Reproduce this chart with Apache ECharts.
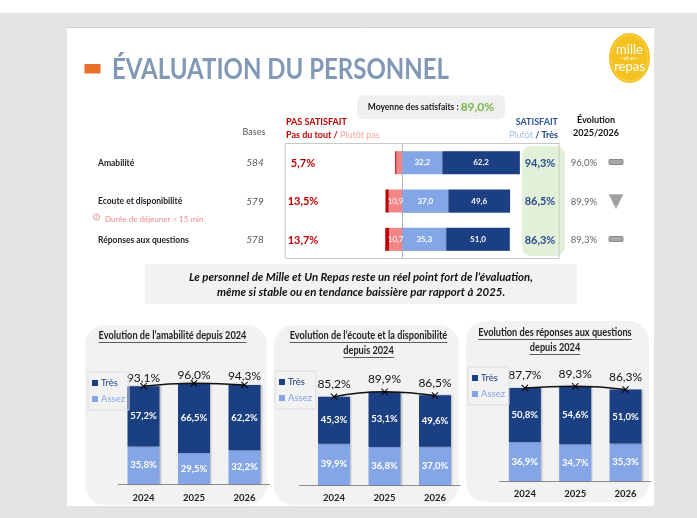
<!DOCTYPE html>
<html><head><meta charset="utf-8">
<style>html,body{margin:0;padding:0;background:#fff}#c{width:697px;height:518px}</style>
<script src="https://cdn.jsdelivr.net/npm/echarts@6/dist/echarts.min.js"></script>
</head><body><div id="c"></div>
<script>
// ---- main table data
const rowNames = ['Amabilité', 'Ecoute et disponibilité', 'Réponses aux questions'];
const bases = ['584', '579', '578'];
const pasDuTout = [1.0, 2.6, 3.0];
const plutotPas = [4.7, 10.9, 10.7];
const plutotSat = [32.2, 37.0, 35.3];
const tresSat = [62.2, 49.6, 51.0];
const totalPas = [5.7, 13.5, 13.7];
const totalSat = [94.3, 86.5, 86.3];
const evol2025 = [96.0, 89.9, 89.3];
const evolTrend = ['flat', 'down', 'flat'];
const averageSat = 89.0;
// ---- evolution panels data
const years = ['2024', '2025', '2026'];
const amabTres = [57.2, 66.5, 62.2];
const amabAssez = [35.8, 29.5, 32.2];
const amabTotal = [93.1, 96.0, 94.3];
const ecouteTres = [45.3, 53.1, 49.6];
const ecouteAssez = [39.9, 36.8, 37.0];
const ecouteTotal = [85.2, 89.9, 86.5];
const repTres = [50.8, 54.6, 51.0];
const repAssez = [36.9, 34.7, 35.3];
const repTotal = [87.7, 89.3, 86.3];

const NAVY = '#1a3f82', LIGHT = '#85a6e6', RED = '#c00000', PINK = '#f28585';
const FONT = 'Lato, sans-serif';
const fr = (v, d = 1) => v.toFixed(d).replace('.', ',');
const pct = v => fr(v) + '%';

const measureCtx = document.createElement('canvas').getContext('2d');
function textWidth(text, font) { measureCtx.font = font; return measureCtx.measureText(text).width; }

function txt(x, y, text, font, fill, align, extra, el) {
  return Object.assign({ type: 'text', x, y, z: 20, silent: true,
    style: Object.assign({ text, font, fill, align: align || 'left', verticalAlign: 'middle' }, extra || {}) }, el || {});
}
function box(x, y, w, h, fill, r, z, stroke) {
  return { type: 'rect', z: z === undefined ? 0 : z, silent: true, shape: { x, y, width: w, height: h, r: r || 0 },
    style: { fill, stroke: stroke || null } };
}

const rowY = [163, 201.5, 240];
const g = [];
// page
g.push(box(0, 13, 697, 505, '#e4e4e4', 0, -3));
g.push(box(67, 27, 587, 479, '#ffffff', 0, -2));
g.push({ type: 'line', z: -1, silent: true, shape: { x1: 67, y1: 27.5, x2: 654, y2: 27.5 }, style: { stroke: '#d2d2d2', lineWidth: 1 } });
// title
g.push(box(84.5, 64, 16, 9.5, '#e8702a', 0, 1));
g.push(txt(112, 70, 'ÉVALUATION DU PERSONNEL', 'bold 28px ' + FONT, '#8199b6', 'left', null, { scaleX: 0.857 }));
// logo
g.push({ type: 'ellipse', z: 1, silent: true, shape: { cx: 629.5, cy: 58, rx: 20.5, ry: 25 }, style: { fill: '#f4c11f' } });
g.push({ type: 'ellipse', z: 1, silent: true, shape: { cx: 629.5, cy: 58, rx: 18.5, ry: 23 }, style: { fill: 'none', stroke: '#fbe08a', lineWidth: 0.6 } });
g.push(txt(629.5, 49.5, 'mille', '13px ' + FONT, '#fff', 'center'));
g.push(txt(629.5, 58.5, '—et un—', '5px ' + FONT, '#fff', 'center'));
g.push(txt(629.5, 66.5, 'repas', '13px ' + FONT, '#fff', 'center'));
// average
g.push(box(357, 95, 148, 24, '#f0f0f0', 6, 1));
g.push({ type: 'text', x: 431, y: 107.5, z: 20, silent: true, style: {
  text: '{a|Moyenne des satisfaits : }{b|' + fr(averageSat) + '%}', align: 'center', verticalAlign: 'middle',
  rich: { a: { font: 'bold 8.5px ' + FONT, fill: '#1a1a1a' }, b: { font: 'bold 12px ' + FONT, fill: '#7ab648' } } } });
// headers
g.push(txt(254, 132.5, 'Bases', '9px ' + FONT, '#555', 'center'));
g.push(txt(286, 122.5, 'PAS SATISFAIT', 'bold 9px ' + FONT, RED));
g.push({ type: 'text', x: 286, y: 135, z: 20, silent: true, style: {
  text: '{a|Pas du tout / }{b|Plutôt pas}', verticalAlign: 'middle',
  rich: { a: { font: 'bold 9px ' + FONT, fill: RED }, b: { font: '9px ' + FONT, fill: '#f6a5a5' } } } });
g.push(txt(558, 122.5, 'SATISFAIT', 'bold 9px ' + FONT, '#2f5597', 'right'));
g.push({ type: 'text', x: 558, y: 135, z: 20, silent: true, style: {
  text: '{a|Plutôt}{b| / Très}', align: 'right', verticalAlign: 'middle',
  rich: { a: { font: '9px ' + FONT, fill: '#a5bdec' }, b: { font: 'bold 9px ' + FONT, fill: NAVY } } } });
g.push(txt(596, 120.5, 'Évolution', 'bold 9px ' + FONT, '#111', 'center'));
g.push(txt(596, 133, '2025/2026', 'bold 9px ' + FONT, '#111', 'center'));
// green box
g.push(box(522, 146, 43, 110, 'rgba(190,220,170,0.45)', 9, 3));
// table rows
rowNames.forEach((name, i) => {
  const y = rowY[i];
  g.push(txt(98, y, name, 'bold 8.5px ' + FONT, '#222'));
  g.push(txt(255, y, bases[i], 'italic 10px ' + FONT, '#555', 'center'));
  g.push(txt(303, y, fr(totalPas[i]) + '%', 'bold 11px ' + FONT, RED, 'center'));
  g.push(txt(540, y, fr(totalSat[i]) + '%', 'bold 11px ' + FONT, '#2b4d8f', 'center'));
  g.push(txt(584, y, fr(evol2025[i]) + '%', '9.5px ' + FONT, '#666', 'center'));
  if (evolTrend[i] === 'flat') {
    g.push(box(609, y - 3.5, 14, 5, '#a8a8a8', 1, 5, '#8a8a8a'));
  } else {
    g.push({ type: 'polygon', z: 5, silent: true, shape: { points: [[609, y - 7], [623, y - 7], [616, y + 7]] },
      style: { fill: '#a0a0a0', stroke: '#bdbdbd', lineWidth: 1 } });
  }
});
g.push({ type: 'circle', z: 5, silent: true, shape: { cx: 96.5, cy: 217, r: 3 }, style: { fill: 'none', stroke: '#ee7a7a', lineWidth: 0.8 } });
g.push(txt(96.5, 217, '!', '5px ' + FONT, '#ee7a7a', 'center'));
g.push(txt(105, 219, 'Durée de déjeuner < 15 min', '8px ' + FONT, '#f08a8a'));
// statement
g.push(box(145, 264, 432, 40, '#f2f2f2', 0, 1));
g.push(txt(361, 277, 'Le personnel de Mille et Un Repas reste un réel point fort de l’évaluation,', 'italic bold 11.4px ' + FONT, '#111', 'center'));
g.push(txt(361, 292, 'même si stable ou en tendance baissière par rapport à 2025.', 'italic bold 11.4px ' + FONT, '#111', 'center'));

// panels
const panels = [
  { tres: amabTres, assez: amabAssez, total: amabTotal, rect: [85, 325, 182, 180], cx: 172.5, left: 118.25, width: 151.5, axisY: 484, scale: 1.05, dist: -1,
    title: [['Evolution de l’amabilité depuis 2024', 336]], legend: [88, 372], catMargin: 9 },
  { tres: ecouteTres, assez: ecouteAssez, total: ecouteTotal, rect: [274, 325, 185, 180], cx: 368.5, left: 308.75, width: 151.5, axisY: 485, scale: 1.036, dist: 3,
    title: [['Evolution de l’écoute et la disponibilité', 336], ['depuis 2024', 351]], legend: [275, 371], catMargin: 8 },
  { tres: repTres, assez: repAssez, total: repTotal, rect: [466, 321, 183, 181], cx: 555, left: 499.7, width: 151, axisY: 481, scale: 1.06, dist: 3,
    title: [['Evolution des réponses aux questions', 333], ['depuis 2024', 348]], legend: [468, 367], catMargin: 8 }
];
const grids = [], xAxes = [], yAxes = [], series = [], legends = [];
const VMAX = 120;
const TITLE_SCALE = 0.875;
panels.forEach((p, i) => {
  const [x, y, w, h] = p.rect;
  g.push(box(x, y, w, h, '#f2f2f2', 20, -1));
  const tf = 'bold 10.5px ' + FONT;
  p.title.forEach(t => {
    g.push(txt(p.cx, t[1], t[0], tf, '#222', 'center', null, { scaleX: TITLE_SCALE }));
    const tw = textWidth(t[0], tf) * TITLE_SCALE;
    g.push({ type: 'line', z: 20, silent: true, shape: { x1: p.cx - tw / 2, y1: t[1] + 6.5, x2: p.cx + tw / 2, y2: t[1] + 6.5 }, style: { stroke: '#333', lineWidth: 0.8 } });
  });
  const idx = i + 1;
  grids.push({ left: p.left, width: p.width, top: p.axisY - VMAX * p.scale, height: VMAX * p.scale, z: 2 });
  xAxes.push({ type: 'category', gridIndex: idx, data: years,
    axisLine: { lineStyle: { color: '#8c8c8c', width: 1 } }, axisTick: { show: false },
    axisLabel: { margin: p.catMargin, fontWeight: 'bold', fontSize: 9.5, fontFamily: FONT, color: '#222' } });
  yAxes.push({ type: 'value', gridIndex: idx, min: 0, max: VMAX, show: false, splitLine: { show: false } });
  const barStyle = c => ({ color: c, shadowBlur: 2, shadowOffsetX: 1, shadowColor: 'rgba(0,0,0,0.25)' });
  const lab = { show: true, position: 'inside', color: '#fff', fontFamily: FONT, fontSize: 9.5, fontWeight: 'bold',
    formatter: o => pct(o.value) };
  series.push({ name: 'Assez', type: 'bar', xAxisIndex: idx, yAxisIndex: idx, stack: 'p' + i, barWidth: 32, data: p.assez, itemStyle: barStyle(LIGHT), label: lab });
  series.push({ name: 'Très', type: 'bar', xAxisIndex: idx, yAxisIndex: idx, stack: 'p' + i, barWidth: 32, data: p.tres, itemStyle: barStyle(NAVY), label: lab });
  series.push({ name: 'Total', type: 'line', xAxisIndex: idx, yAxisIndex: idx, data: p.total, smooth: true, z: 6,
    symbol: 'path://M1 0L5 4L9 0L10 1L6 5L10 9L9 10L5 6L1 10L0 9L4 5L0 1Z', symbolSize: 7,
    lineStyle: { color: '#111', width: 1.5 }, itemStyle: { color: '#000' },
    label: { show: true, position: 'top', distance: p.dist, color: '#111', fontFamily: FONT, fontSize: 12, formatter: o => pct(o.value) } });
  legends.push({ left: p.legend[0], top: p.legend[1], orient: 'vertical', icon: 'rect', itemWidth: 6, itemHeight: 6, itemGap: 6,
    padding: [6, 4, 6, 4], borderColor: '#dedede', borderWidth: 1, selectedMode: false, z: 10,
    textStyle: { fontFamily: FONT, fontSize: 9.5, padding: [0, 0, 0, -2] },
    data: [{ name: 'Très', textStyle: { color: NAVY } }, { name: 'Assez', textStyle: { color: LIGHT } }] });
});
// panel 2 axis line extends to the left of the band
g.push({ type: 'line', z: 5, silent: true, shape: { x1: 299, y1: 485.5, x2: 309, y2: 485.5 }, style: { stroke: '#8c8c8c', lineWidth: 1 } });

// main grid: value -94..126 at 1.245 px per unit
const mainLab = { show: true, position: 'inside', color: '#fff', fontFamily: FONT, fontSize: 8, fontWeight: 'bold' };
const mainSeries = [
  { name: 'Plutôt pas', type: 'bar', stack: 'm', barWidth: 23, data: plutotPas.map(v => -v), itemStyle: { color: PINK },
    label: Object.assign({}, mainLab, { fontWeight: 'normal', formatter: o => -o.value > 6 ? fr(-o.value) : '' }), z: 4 },
  { name: 'Pas du tout', type: 'bar', stack: 'm', barWidth: 23, data: pasDuTout.map(v => -v), itemStyle: { color: RED }, z: 4 },
  { name: 'Plutôt', type: 'bar', stack: 'm', barWidth: 23, data: plutotSat, itemStyle: { color: LIGHT, shadowBlur: 1, shadowColor: 'rgba(40,70,140,.4)' },
    label: Object.assign({}, mainLab, { formatter: o => fr(o.value) }), z: 4 },
  { name: 'Très sat.', type: 'bar', stack: 'm', barWidth: 23, data: tresSat, itemStyle: { color: NAVY, shadowBlur: 1, shadowColor: 'rgba(40,70,140,.4)' },
    label: Object.assign({}, mainLab, { formatter: o => fr(o.value) }), z: 4 }
];

const chart = echarts.init(document.getElementById('c'));
chart.setOption({
  animation: false,
  backgroundColor: '#fff',
  graphic: { elements: g },
  legend: legends,
  grid: [{ left: 285.27, width: 273.9, top: 143.5, height: 115, show: true, borderColor: '#c8c8c8', borderWidth: 1, backgroundColor: 'transparent', z: 2 }].concat(grids),
  xAxis: [{ type: 'value', gridIndex: 0, min: -94, max: 126, show: false, splitLine: { show: false } }].concat(xAxes),
  yAxis: [{ type: 'category', gridIndex: 0, data: rowNames, inverse: true,
    axisLine: { show: true, onZero: true, lineStyle: { color: '#b5b5b5', width: 1 } }, axisTick: { show: false }, axisLabel: { show: false } }].concat(yAxes),
  series: mainSeries.map(s => Object.assign({ xAxisIndex: 0, yAxisIndex: 0 }, s)).concat(series)
});
</script></body></html>
